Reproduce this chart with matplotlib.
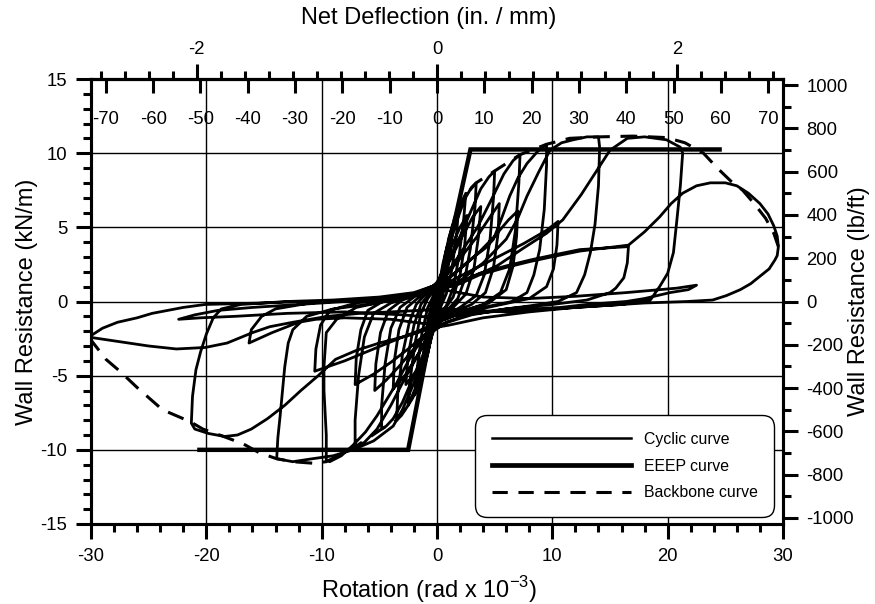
import numpy as np
import matplotlib.pyplot as plt
from matplotlib.lines import Line2D
from matplotlib.ticker import MultipleLocator, FixedLocator, NullLocator

plt.rcParams['font.family'] = ['Liberation Sans', 'DejaVu Sans']
plt.rcParams['axes.unicode_minus'] = False
plt.rcParams['mathtext.fontset'] = 'custom'
plt.rcParams['mathtext.rm'] = 'Liberation Sans'

# 1e-3 rad of rotation = 2.438 mm of deflection (8 ft wall)
WALL_H = 2.438
KN_TO_LBFT = 68.52

# cyclic record, one list per cycle: (rotation x1e-3 rad, resistance kN/m)
cyc_01 = [(0, 0), (0.2, 0.9), (0.4, 1.7), (0.6, 2.5), (0.5, 1.6), (0.3, 0.6), (0.1, -0.2),
          (-0.2, -1.0), (-0.4, -1.8), (-0.6, -2.5), (-0.5, -1.6), (-0.3, -0.6), (-0.1, 0.2)]
cyc_02 = [(0.2, 1.2), (0.5, 2.5), (0.9, 3.8), (0.8, 2.6), (0.5, 1.0), (0.2, 0.0),
          (-0.2, -1.2), (-0.5, -2.5), (-0.9, -3.7), (-0.8, -2.5), (-0.5, -0.9), (-0.2, 0.1)]
cyc_03 = [(0.3, 1.3), (0.7, 3.0), (1.0, 4.2), (1.3, 5.0), (1.15, 3.4), (0.8, 1.4), (0.4, 0.1),
          (0.0, -0.8), (-0.4, -2.0), (-0.8, -3.5), (-1.3, -5.0), (-1.15, -3.3), (-0.8, -1.3), (-0.4, 0.0)]
cyc_04 = [(0.0, 0.6), (0.5, 2.2), (1.0, 4.0), (1.5, 5.6), (1.9, 6.5), (1.7, 4.6), (1.3, 2.2),
          (0.8, 0.5), (0.3, -0.4), (-0.3, -1.6), (-0.8, -3.5), (-1.4, -5.2), (-1.9, -6.3),
          (-1.7, -4.4), (-1.3, -2.1), (-0.8, -0.4), (-0.3, 0.4)]
cyc_05 = [(0.3, 1.4), (0.9, 3.4), (1.5, 5.2), (2.0, 6.5), (2.5, 7.3), (2.3, 5.4), (1.9, 3.0),
          (1.4, 0.9), (0.8, -0.3), (0.2, -0.9), (-0.4, -2.0), (-1.0, -3.9), (-1.6, -5.6),
          (-2.1, -6.5), (-2.5, -7.0), (-2.3, -5.1), (-1.9, -2.8), (-1.4, -0.8), (-0.8, 0.2), (-0.2, 0.8)]
cyc_06 = [(0.4, 1.8), (1.0, 3.6), (1.7, 5.4), (2.4, 6.9), (3.0, 7.7), (3.4, 8.0), (3.3, 6.4),
          (2.9, 3.6), (2.4, 1.5), (1.8, 0.2), (1.0, -0.5), (0.2, -1.0), (-0.5, -2.2), (-1.1, -4.0),
          (-1.8, -5.7), (-2.5, -7.0), (-3.1, -7.7), (-3.5, -8.0), (-3.4, -6.2), (-3.0, -3.6),
          (-2.4, -1.4), (-1.8, -0.2), (-1.0, 0.5), (-0.2, 1.0)]
cyc_07 = [(0.6, 2.2), (1.3, 3.8), (2.0, 5.0), (2.6, 5.8), (2.4, 3.8), (2.0, 1.8), (1.4, 0.3),
          (0.6, -0.6), (-0.2, -1.4), (-0.9, -3.2), (-1.7, -4.6), (-2.7, -5.6), (-2.5, -3.6),
          (-2.0, -1.6), (-1.4, -0.2), (-0.6, 0.6)]
cyc_08 = [(0.2, 1.3), (1.0, 2.8), (2.0, 4.4), (3.0, 6.2), (3.8, 7.6), (4.5, 8.4), (5.0, 8.8),
          (4.9, 7.0), (4.6, 4.2), (4.1, 1.8), (3.4, 0.4), (2.0, -0.4), (0.6, -1.0), (-0.3, -1.8),
          (-1.0, -3.2), (-2.0, -5.0), (-3.0, -6.8), (-3.8, -7.9), (-4.4, -8.4), (-4.8, -8.6),
          (-4.8, -7.0), (-4.5, -4.2), (-4.0, -1.8), (-3.2, -0.4), (-2.0, 0.3), (-0.6, 0.9)]
cyc_09 = [(0.2, 1.4), (1.2, 2.9), (2.2, 4.4), (3.1, 5.7), (3.8, 6.4), (3.6, 4.4), (3.2, 2.2),
          (2.5, 0.5), (1.4, -0.4), (0.3, -1.0), (-0.6, -2.0), (-1.6, -3.5), (-2.7, -4.9),
          (-3.8, -5.9), (-3.7, -4.0), (-3.3, -1.9), (-2.6, -0.4), (-1.4, 0.4), (-0.3, 1.0)]
cyc_10 = [(0.6, 1.6), (2.0, 3.2), (3.5, 5.0), (4.8, 7.0), (5.8, 8.6), (6.6, 9.5), (7.2, 9.9),
          (7.1, 8.0), (6.8, 4.8), (6.3, 2.2), (5.5, 0.6), (4.0, -0.2), (2.0, -0.7), (0.4, -1.2),
          (-0.5, -2.0), (-1.5, -3.4), (-2.8, -5.2), (-4.0, -7.0), (-5.2, -8.6), (-6.3, -9.5),
          (-7.1, -9.8), (-7.1, -8.0), (-6.8, -5.0), (-6.3, -2.4), (-5.5, -0.8), (-4.0, -0.1),
          (-2.0, 0.4), (-0.4, 1.0)]
cyc_11 = [(0.6, 1.6), (2.0, 2.9), (3.4, 4.3), (4.6, 5.7), (5.4, 6.6), (5.3, 4.6), (4.9, 2.3),
          (4.2, 0.6), (3.0, -0.2), (1.2, -0.8), (-0.4, -1.7), (-1.8, -3.0), (-3.2, -4.3),
          (-4.4, -5.3), (-5.4, -6.0), (-5.3, -4.2), (-4.9, -2.1), (-4.2, -0.6), (-3.0, 0.1), (-1.2, 0.6)]
cyc_12 = [(0.0, 1.0), (1.5, 1.9), (3.0, 2.9), (4.2, 3.6), (4.9, 4.2), (5.6, 5.6), (6.3, 7.1),
          (7.0, 8.3), (7.8, 9.3), (8.7, 10.1), (9.5, 10.6), (9.5, 9.2), (9.3, 6.2), (8.9, 3.5),
          (8.4, 1.8), (7.8, 0.6), (6.5, 0.0), (4.0, -0.4), (2.0, -0.8), (0.4, -1.3), (-1.0, -2.2),
          (-2.2, -3.6), (-3.5, -5.5), (-5.2, -7.7), (-6.2, -8.8), (-7.3, -9.7), (-8.3, -10.4),
          (-9.3, -10.8), (-9.6, -10.7), (-9.6, -9.0), (-9.8, -6.0), (-9.8, -4.4), (-9.6, -2.1),
          (-8.7, -1.2), (-7.0, -0.4), (-4.0, 0.1), (-2.0, 0.5), (-0.5, 1.0)]
cyc_13 = [(0.5, 1.2), (2.0, 2.2), (3.5, 3.2), (5.0, 4.4), (6.2, 5.5), (7.0, 6.1), (6.9, 4.4),
          (6.6, 2.4), (6.0, 0.8), (4.5, -0.1), (2.5, -0.6), (0.5, -1.2), (-1.0, -2.2), (-2.5, -3.2),
          (-4.0, -4.1), (-5.5, -4.9), (-7.1, -5.6), (-7.0, -3.8), (-6.6, -1.9), (-6.0, -0.6),
          (-4.5, 0.1), (-2.5, 0.4), (-0.5, 0.9)]
cyc_14 = [(0.5, 1.0), (2.0, 1.4), (4.0, 2.6), (6.0, 4.2), (7.0, 5.6), (7.8, 7.1), (8.8, 8.7),
          (9.8, 10.2), (10.8, 10.7), (11.8, 10.9), (13.0, 11.1), (14.0, 11.1), (14.1, 10.4),
          (14.0, 7.8), (13.7, 5.2), (13.3, 3.3), (12.8, 1.8), (12.1, 0.6), (10.5, 0.0), (8.0, -0.3),
          (5.0, -0.6), (2.5, -0.9), (0.8, -1.4), (-0.3, -2.0), (-1.0, -3.5), (-2.0, -5.5),
          (-3.0, -7.3), (-3.8, -8.4), (-5.5, -9.4), (-7.3, -10.0), (-9.0, -10.4), (-10.8, -10.6),
          (-12.5, -10.8), (-13.9, -10.6), (-13.8, -9.2), (-13.6, -7.7), (-13.2, -4.4),
          (-12.9, -2.8), (-12.5, -1.9), (-11.3, -1.0), (-9.0, -0.5), (-6.0, -0.2), (-3.0, 0.2),
          (-1.0, 0.6)]
cyc_15 = [(0.5, 1.1), (2.5, 1.9), (5.0, 2.9), (7.5, 3.9), (9.5, 4.8), (10.5, 5.4), (10.4, 3.8),
          (10.1, 2.2), (9.5, 1.0), (8.0, 0.2), (5.0, -0.3), (2.0, -0.8), (0.3, -1.3), (-1.0, -1.8),
          (-3.0, -2.4), (-5.5, -3.2), (-8.0, -4.0), (-10.6, -4.7), (-10.5, -3.2), (-10.1, -1.6),
          (-9.3, -0.6), (-7.0, -0.1), (-4.0, 0.2), (-1.5, 0.6)]
cyc_16 = [(0.5, 0.9), (2.0, 1.3), (3.5, 1.8), (5.2, 2.4), (7.5, 3.6), (9.5, 4.6), (10.9, 5.5),
          (12.5, 7.2), (14.0, 9.0), (15.0, 10.2), (16.5, 11.0), (18.0, 11.1), (19.9, 10.9),
          (21.1, 10.4), (21.3, 10.0), (21.1, 7.8), (20.8, 5.5), (20.5, 3.3), (20.0, 1.9),
          (19.3, 1.0), (18.5, 0.1), (16.0, -0.2), (12.0, -0.4), (8.0, -0.7), (4.0, -1.1),
          (1.0, -1.6), (-0.5, -1.8), (-2.5, -2.3), (-5.0, -2.8), (-7.0, -3.3), (-8.8, -3.9),
          (-10.3, -5.0), (-11.8, -6.0), (-13.2, -7.0), (-14.7, -7.9), (-16.1, -8.6), (-17.3, -9.0),
          (-18.4, -9.1), (-19.8, -8.9), (-21.0, -8.6), (-21.3, -8.2), (-21.2, -6.4), (-20.9, -4.6),
          (-20.5, -3.4), (-20.0, -2.2), (-19.4, -1.1), (-18.7, -0.5), (-17.0, -0.2), (-13.0, 0.0),
          (-9.0, 0.1), (-5.0, 0.3), (-2.0, 0.6), (-0.5, 1.0)]
cyc_17 = [(1.0, 1.0), (3.7, 1.9), (6.0, 2.4), (8.1, 2.8), (10.5, 3.2), (12.4, 3.5), (14.5, 3.6),
          (16.6, 3.7), (16.5, 2.6), (16.2, 1.6), (15.5, 0.9), (15.0, 0.6), (13.0, 0.1), (10.0, -0.2),
          (6.0, -0.5), (3.0, -0.9), (0.5, -1.5), (-1.0, -1.5), (-4.0, -1.2), (-8.0, -1.1),
          (-10.5, -1.2), (-12.0, -1.4), (-14.3, -2.1), (-16.3, -2.8), (-16.1, -1.9), (-15.2, -1.0),
          (-14.0, -0.5), (-11.0, -0.1), (-7.0, 0.1), (-3.5, 0.3), (-1.0, 0.7)]
cyc_18 = [(0.3, 0.8), (2.0, 1.2), (3.7, 1.8), (6.0, 2.3), (8.1, 2.7), (10.5, 3.1), (12.4, 3.4),
          (14.5, 3.6), (16.6, 3.8), (18.0, 4.7), (19.3, 5.7), (20.3, 6.6), (21.3, 7.3), (22.5, 7.8),
          (23.7, 8.0), (25.0, 8.0), (26.0, 7.8), (27.0, 7.3), (28.0, 6.6), (28.7, 5.9), (29.2, 5.1),
          (29.5, 4.4), (29.6, 3.7), (29.5, 3.1), (29.3, 2.8), (28.8, 2.2), (28.0, 1.7), (27.2, 1.2),
          (26.3, 0.8), (25.1, 0.4), (23.9, 0.1), (21.7, 0.0), (18.0, -0.1), (14.0, -0.3),
          (10.0, -0.5), (6.0, -0.7), (3.0, -0.6), (0.5, -0.5), (-1.5, -0.6), (-4.0, -0.7),
          (-6.7, -0.8), (-9.5, -1.0), (-12.5, -1.4), (-14.5, -1.7), (-16.0, -2.1), (-18.2, -2.8),
          (-20.1, -3.1), (-22.6, -3.2), (-25.0, -3.0), (-27.6, -2.7), (-30.2, -2.4), (-29.0, -1.8),
          (-27.7, -1.4), (-26.0, -1.1), (-24.7, -0.8), (-22.0, -0.4), (-20.1, -0.2), (-15.0, -0.1),
          (-12.0, 0.0), (-9.6, 0.0), (-5.0, 0.2), (-2.5, 0.4), (-0.9, 0.6), (0.0, 0.9)]
cyc_19 = [(0.5, 0.8), (4.0, 0.3), (8.0, 0.2), (12.0, 0.35), (16.4, 0.6), (20.8, 0.9), (22.5, 1.1),
          (21.8, 0.8), (20.2, 0.6), (18.0, 0.2), (16.4, 0.0), (13.0, -0.2), (10.7, -0.4), (6.0, -0.6),
          (2.0, -0.9), (0.0, -1.1), (-3.0, -0.9), (-8.0, -0.7), (-13.0, -0.8), (-17.5, -1.0),
          (-20.5, -1.1), (-22.4, -1.2), (-21.0, -0.9), (-19.0, -0.6), (-16.0, -0.4), (-12.0, -0.2),
          (-6.0, 0.1), (-2.0, 0.4), (0.0, 0.6)]

cycles = [cyc_01, cyc_02, cyc_03, cyc_04, cyc_05, cyc_06, cyc_07, cyc_08, cyc_09, cyc_10,
          cyc_11, cyc_12, cyc_13, cyc_14, cyc_15, cyc_16, cyc_17, cyc_18, cyc_19]

# equivalent energy elastic-plastic curve
eeep_rot = [-20.6, -2.5, 0.0, 2.9, 24.5]
eeep_res = [-10.0, -10.0, 0.0, 10.25, 10.25]

# backbone (envelope) curve
bb_rot = [-30.2, -28.7, -27.5, -26.0, -23.8, -22.6, -21.4, -20.3, -18.5, -16.8, -15.4, -13.9,
          -12.5, -10.8, -9.6, -7.1, -4.8, -3.5, -2.5, -1.5, -0.8, 0.0,
          0.8, 1.5, 2.5, 3.4, 5.0, 7.2, 9.5, 11.5, 14.1, 17.0, 19.9, 21.5, 23.1, 24.3, 25.5,
          26.5, 27.5, 28.5, 29.2, 29.6]
bb_res = [-2.4, -3.9, -4.7, -5.8, -7.3, -7.7, -8.1, -8.6, -9.1, -9.6, -10.2, -10.6,
          -10.8, -10.9, -10.8, -9.8, -8.6, -8.0, -7.0, -5.5, -3.5, 0.0,
          3.5, 5.6, 7.2, 8.0, 8.8, 9.9, 10.6, 11.0, 11.1, 11.15, 11.05, 10.7, 10.0, 9.0, 8.1,
          7.5, 6.6, 5.6, 4.6, 3.7]

fig = plt.figure(figsize=(8.75, 6.04), dpi=100)
ax = fig.add_axes([91 / 875, 1 - 524 / 604, 692 / 875, 445 / 604])

cyc = np.concatenate([np.array(c) for c in cycles])
ax.plot(cyc[:, 0], cyc[:, 1], color='black', lw=2.0, solid_joinstyle='round', zorder=3)
ax.plot(eeep_rot, eeep_res, color='black', lw=3.2, solid_joinstyle='miter', zorder=4)
ax.plot(bb_rot, bb_res, color='black', lw=2.2, linestyle=(0, (5.5, 3.5)), zorder=4)

ax.set_xlim(-30, 30)
ax.set_ylim(-15, 15)
ax.xaxis.set_major_locator(MultipleLocator(10))
ax.xaxis.set_minor_locator(MultipleLocator(2))
ax.yaxis.set_major_locator(MultipleLocator(5))
ax.yaxis.set_minor_locator(MultipleLocator(1))
ax.grid(True, which='major', color='black', lw=1.0, zorder=1)
ax.tick_params(which='major', direction='out', length=11, width=2.2, labelsize=13.3, pad=6)
ax.tick_params(which='minor', direction='out', length=6, width=2.2)
ax.tick_params(top=False, right=False, which='both')
for s in ax.spines.values():
    s.set_linewidth(2.2)

ax.set_xlabel('Rotation (rad x 10$^{\\mathregular{-3}}$)', fontsize=17, va='baseline')
ax.xaxis.set_label_coords(0.488, -0.166)
ax.set_ylabel('Wall Resistance (kN/m)', fontsize=17, va='center')
ax.yaxis.set_label_coords(-0.092, 0.5)

# right axis in lb/ft
ax_r = ax.twinx()
ax_r.set_ylim(-15 * KN_TO_LBFT, 15 * KN_TO_LBFT)
ax_r.yaxis.set_major_locator(MultipleLocator(200))
ax_r.yaxis.set_minor_locator(MultipleLocator(100))
ax_r.tick_params(which='major', direction='out', length=11, width=2.2, labelsize=13.3, pad=6)
ax_r.tick_params(which='minor', direction='out', length=6, width=2.2)
for s in ax_r.spines.values():
    s.set_linewidth(2.2)
ax_r.set_ylabel('Wall Resistance (lb/ft)', fontsize=17, va='center', rotation=90)
ax_r.yaxis.set_label_coords(1.11, 0.5)

# top axes: deflection in mm (inside) and inches (outside)
sec_mm = ax.secondary_xaxis('top', functions=(lambda r: r * WALL_H, lambda d: d / WALL_H))
sec_mm.xaxis.set_major_locator(FixedLocator(np.arange(-70, 71, 10)))
sec_mm.xaxis.set_minor_locator(NullLocator())
sec_mm.tick_params(which='major', direction='in', length=10, width=2.2, labelsize=13.3, pad=-35)
sec_mm.spines['top'].set_linewidth(2.2)

sec_in = ax.secondary_xaxis('top', functions=(lambda r: r * WALL_H / 25.4, lambda i: i * 25.4 / WALL_H))
sec_in.xaxis.set_major_locator(FixedLocator([-2, 0, 2]))
sec_in.xaxis.set_minor_locator(MultipleLocator(0.2))
sec_in.tick_params(which='major', direction='out', length=11, width=2.2, labelsize=13.3, pad=4)
sec_in.tick_params(which='minor', direction='out', length=6, width=2.2)
sec_in.spines['top'].set_linewidth(2.2)

fig.text(428.5 / 875, 1 - 18 / 604, 'Net Deflection (in. / mm)', ha='center', va='center', fontsize=17)

handles = [Line2D([], [], color='black', lw=1.8),
           Line2D([], [], color='black', lw=3.4),
           Line2D([], [], color='black', lw=2.2, linestyle=(0, (5, 3.5)))]
leg = ax.legend(handles, ['Cyclic curve', 'EEEP curve', 'Backbone curve'],
                loc='lower right', bbox_to_anchor=(0.987, 0.0157), borderaxespad=0,
                fontsize=11.4, handlelength=8.8, handletextpad=0.8, borderpad=1.05,
                labelspacing=0.75, fancybox=True, framealpha=1, edgecolor='black')
leg.get_frame().set_linewidth(1.0)
leg.get_frame().set_boxstyle('round,pad=0,rounding_size=0.75')
leg.set_zorder(10)

fig.savefig('out.png', dpi=100)
